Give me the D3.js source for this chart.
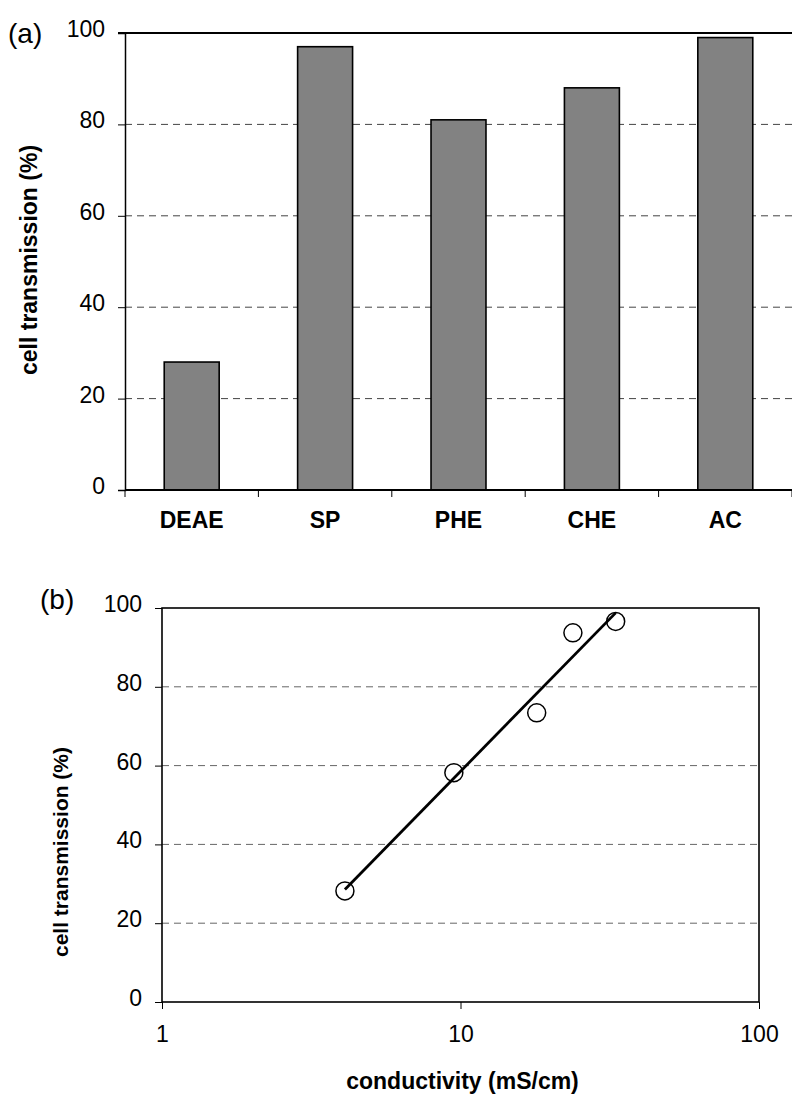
<!DOCTYPE html>
<html>
<head>
<meta charset="utf-8">
<script src="https://cdn.jsdelivr.net/npm/d3@7"></script>
<style>
body { margin: 0; background: #fff; }
text { font-family: "Liberation Sans", Arial, sans-serif; fill: #000; }
</style>
</head>
<body>
<div id="mydraw"></div>
<script>

///////////////////////////////////////////////
// data

// (a) bar chart
var categories   = ["DEAE", "SP", "PHE", "CHE", "AC"];
var transmission = [28, 97, 81, 88, 99];
var yTicks       = [0, 20, 40, 60, 80, 100];

// (b) scatter, log x
var conductivity  = [4.1, 9.5, 18.0, 23.8, 33.1];
var transmissionB = [28.2, 58.2, 73.4, 93.7, 96.6];
var xTicksB       = [1, 10, 100];


var width = 792, height = 1099;

var svg = d3.select("div#mydraw").append("svg")
    .attr("width", width)
    .attr("height", height);


///////////////////////////////////////////////
// (a) cell transmission per adsorbent

var A = { left: 125, right: 792, top: 33, bottom: 490 };

var xa = d3.scaleBand()
    .domain(categories)
    .range([A.left, A.right])
    .paddingInner(0.588)
    .paddingOuter(0.294);

var ya = d3.scaleLinear()
    .domain([0, 100])
    .range([A.bottom, A.top]);

var ga = svg.append("g");

// dashed grid
ga.selectAll("line.grid")
    .data(yTicks.filter(function(d) { return d > 0 && d < 100; }))
    .enter().append("line")
    .attr("class", "grid")
    .attr("x1", A.left).attr("x2", A.right)
    .attr("y1", function(d) { return ya(d); })
    .attr("y2", function(d) { return ya(d); })
    .attr("stroke", "#444")
    .attr("stroke-width", 1)
    .attr("stroke-dasharray", "7,5");

// bars
ga.selectAll("rect.bar")
    .data(categories)
    .enter().append("rect")
    .attr("class", "bar")
    .attr("x", function(d) { return xa(d); })
    .attr("width", xa.bandwidth())
    .attr("y", function(d, i) { return ya(transmission[i]); })
    .attr("height", function(d, i) { return ya(0) - ya(transmission[i]); })
    .attr("fill", "#828282")
    .attr("stroke", "#000")
    .attr("stroke-width", 1.6);

// frame: top, bottom
ga.append("line")
    .attr("x1", A.left - 7).attr("x2", A.right)
    .attr("y1", A.top).attr("y2", A.top)
    .attr("stroke", "#000").attr("stroke-width", 2);
ga.append("line")
    .attr("x1", A.left).attr("x2", A.right)
    .attr("y1", A.bottom).attr("y2", A.bottom)
    .attr("stroke", "#000").attr("stroke-width", 2);

// y axis
var axA = ga.append("g")
    .attr("transform", "translate(" + A.left + ",0)")
    .call(d3.axisLeft(ya).tickValues(yTicks).tickSize(7).tickPadding(13));
axA.select(".domain").attr("stroke", "#000").attr("stroke-width", 1.5);
axA.selectAll(".tick line").attr("stroke", "#000").attr("stroke-width", 1);
axA.selectAll(".tick text")
    .attr("font-size", 23)
    .attr("font-family", "Liberation Sans, Arial, sans-serif")
    .attr("dy", "0.15em");

// category separators under the axis
var step = xa.step();
ga.selectAll("line.sep")
    .data(d3.range(categories.length + 1))
    .enter().append("line")
    .attr("class", "sep")
    .attr("x1", function(i) { return A.left + i * step; })
    .attr("x2", function(i) { return A.left + i * step; })
    .attr("y1", A.bottom).attr("y2", A.bottom + 7)
    .attr("stroke", "#000").attr("stroke-width", 1);

// category labels
ga.selectAll("text.cat")
    .data(categories)
    .enter().append("text")
    .attr("class", "cat")
    .attr("x", function(d) { return xa(d) + xa.bandwidth() / 2; })
    .attr("y", 528)
    .attr("text-anchor", "middle")
    .attr("font-size", 23)
    .attr("font-weight", "bold")
    .text(function(d) { return d; });

ga.append("text")
    .attr("transform", "translate(37,260) rotate(-90)")
    .attr("text-anchor", "middle")
    .attr("font-size", 23)
    .attr("font-weight", "bold")
    .text("cell transmission (%)");

ga.append("text")
    .attr("x", 8).attr("y", 43)
    .attr("font-size", 28)
    .text("(a)");


///////////////////////////////////////////////
// (b) transmission vs conductivity

var B = { left: 162, right: 759, top: 608, bottom: 1002 };

var xb = d3.scaleLog()
    .domain([1, 100])
    .range([B.left, B.right]);

var yb = d3.scaleLinear()
    .domain([0, 100])
    .range([B.bottom, B.top]);

var gb = svg.append("g");

gb.selectAll("line.grid")
    .data(yTicks.filter(function(d) { return d > 0 && d < 100; }))
    .enter().append("line")
    .attr("class", "grid")
    .attr("x1", B.left).attr("x2", B.right)
    .attr("y1", function(d) { return yb(d); })
    .attr("y2", function(d) { return yb(d); })
    .attr("stroke", "#666")
    .attr("stroke-width", 1)
    .attr("stroke-dasharray", "7,5");

// frame
gb.append("rect")
    .attr("x", B.left).attr("y", B.top)
    .attr("width", B.right - B.left)
    .attr("height", B.bottom - B.top)
    .attr("fill", "none")
    .attr("stroke", "#000")
    .attr("stroke-width", 1.6);

var axBy = gb.append("g")
    .attr("transform", "translate(" + B.left + ",0)")
    .call(d3.axisLeft(yb).tickValues(yTicks).tickSize(7).tickPadding(13));
axBy.select(".domain").remove();
axBy.selectAll(".tick line").attr("stroke", "#000").attr("stroke-width", 1);
axBy.selectAll(".tick text")
    .attr("font-size", 23)
    .attr("font-family", "Liberation Sans, Arial, sans-serif")
    .attr("dy", "0.15em");

var axBx = gb.append("g")
    .attr("transform", "translate(0," + B.bottom + ")")
    .call(d3.axisBottom(xb).tickValues(xTicksB).tickFormat(d3.format("d"))
        .tickSize(7).tickPadding(17));
axBx.select(".domain").remove();
axBx.selectAll(".tick line").attr("stroke", "#000").attr("stroke-width", 1);
axBx.selectAll(".tick text")
    .attr("font-size", 23)
    .attr("font-family", "Liberation Sans, Arial, sans-serif");

// least squares fit in log10(x)
var lx = conductivity.map(function(d) { return Math.log10(d); });
var mx = d3.mean(lx), my = d3.mean(transmissionB);
var sxy = d3.sum(lx, function(d, i) { return (d - mx) * (transmissionB[i] - my); });
var sxx = d3.sum(lx, function(d) { return (d - mx) * (d - mx); });
var slope = sxy / sxx, icpt = my - slope * mx;
var xExt = d3.extent(conductivity);

// points
gb.selectAll("circle")
    .data(conductivity)
    .enter().append("circle")
    .attr("cx", function(d) { return xb(d); })
    .attr("cy", function(d, i) { return yb(transmissionB[i]); })
    .attr("r", 9)
    .attr("fill", "#fff")
    .attr("stroke", "#000")
    .attr("stroke-width", 1.5);

gb.append("path")
    .datum(xExt)
    .attr("d", d3.line()
        .x(function(d) { return xb(d); })
        .y(function(d) { return yb(icpt + slope * Math.log10(d)); }))
    .attr("fill", "none")
    .attr("stroke", "#000")
    .attr("stroke-width", 2.8);

gb.append("text")
    .attr("x", (B.left + B.right) / 2 + 2).attr("y", 1089)
    .attr("text-anchor", "middle")
    .attr("font-size", 23)
    .attr("font-weight", "bold")
    .text("conductivity (mS/cm)");

gb.append("text")
    .attr("transform", "translate(68,852) rotate(-90)")
    .attr("text-anchor", "middle")
    .attr("font-size", 21)
    .attr("font-weight", "bold")
    .text("cell transmission (%)");

gb.append("text")
    .attr("x", 40).attr("y", 609)
    .attr("font-size", 28)
    .text("(b)");

</script>
</body>
</html>
